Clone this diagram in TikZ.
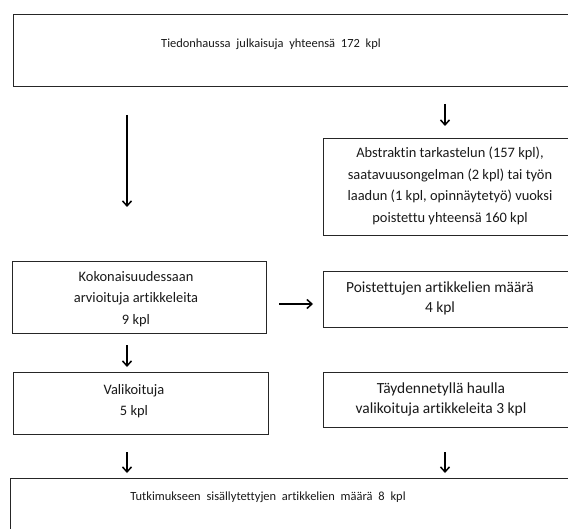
\documentclass[tikz,border=0pt]{standalone}
\usepackage{fontspec}
\setmainfont{Carlito}[Ligatures=NoCommon]
\usetikzlibrary{arrows.meta}
\newcommand{\widesp}{\spaceskip=5.8bp plus 1bp\relax}
\begin{document}
\begin{tikzpicture}[x=1bp,y=-1bp,
  box/.style={draw=black!85, line width=1.1bp, anchor=north west, inner sep=0, minimum width=#1},
  box/.default=600bp,
  txt/.style={font=\fontsize{14.5}{21.5}\selectfont, align=center, inner sep=0, text=black!90},
  big/.style={font=\fontsize{15.5}{20}\selectfont},
  wide/.style={font=\fontsize{12.5}{21.5}\selectfont},
  arr/.style={-{Straight Barb[length=5bp,width=9bp,line width=1.5bp]}, line width=1.5bp}]
\useasboundingbox (0,0) rectangle (568,529);
\clip (0,0) rectangle (568,529);
% boxes
\node[box, minimum height=72bp] (top) at (13,14) {};
\node[txt, wide] (toptxt) at (271,44) {\widesp Tiedonhaussa julkaisuja yhteensä 172 kpl};
\node[box, minimum height=97bp] (abs) at (323,138) {};
\node[txt] (abstxt) at (450,186) {Abstraktin tarkastelun (157 kpl),\\saatavuusongelman (2 kpl) tai työn\\laadun (1 kpl, opinnäytetyö) vuoksi\\poistettu yhteensä 160 kpl};
\node[box=254bp, minimum height=72bp] (koko) at (12,261) {};
\node[txt] (kokotxt) at (136,299) {Kokonaisuudessaan\\arvioituja artikkeleita\\9 kpl};
\node[box, minimum height=56bp] (pois) at (323,271) {};
\node[txt, big] (poistxt) at (440,298) {Poistettujen artikkelien määrä\\4 kpl};
\node[box=255bp, minimum height=62bp] (vali) at (13,372) {};
\node[txt] (valitxt) at (134,401) {Valikoituja\\5 kpl};
\node[box, minimum height=55bp] (tayd) at (323,372) {};
\node[txt, big] (taydtxt) at (441,399) {Täydennetyllä haulla\\valikoituja artikkeleita 3 kpl};
\node[box, minimum height=80bp] (tutk) at (10,478) {};
\node[txt, wide] (tutktxt) at (268,497) {\widesp Tutkimukseen sisällytettyjen artikkelien määrä 8 kpl};
% arrows
\coordinate (a1s) at (445,104); \coordinate (a1e) at (445,126);
\coordinate (a2s) at (127,115); \coordinate (a2e) at (127,207);
\coordinate (a3s) at (279,304); \coordinate (a3e) at (313,304);
\coordinate (a4s) at (127,345); \coordinate (a4e) at (127,367);
\coordinate (a5s) at (127,452); \coordinate (a5e) at (127,473);
\coordinate (a6s) at (445,452); \coordinate (a6e) at (445,473);
\foreach \i in {1,...,6} {\draw[arr] (a\i s) -- (a\i e);}
\end{tikzpicture}
\end{document}
